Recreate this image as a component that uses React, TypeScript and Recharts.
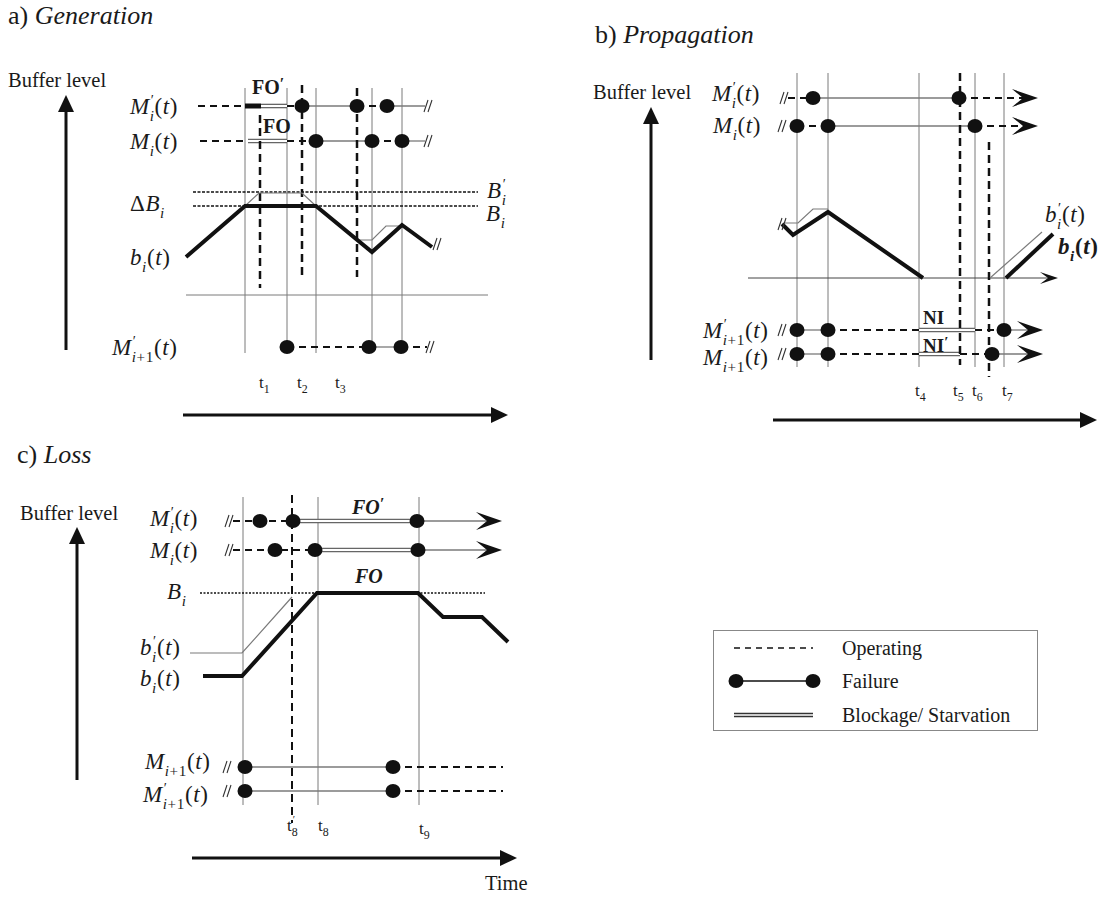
import React from 'react'
import { ComposedChart, Line, Scatter, XAxis, YAxis } from 'recharts'

const W = 1110
const H = 897
const INK = '#111'
const GREY = '#7a7a7a'
const SERIF = '"Liberation Serif", "Times New Roman", serif'

type Part = [string, number, number]
type Row = { y: number; parts: Part[]; dots: number[]; brk?: number; arrow?: number }

// ---- a) Generation ----
const genGrid = [245, 287, 316, 372, 402]
const genGridSpan = [88, 353]
const genDashed = [[260, 115, 288], [302, 85, 280], [357, 88, 277]]
const genRows: Row[] = [
  { y: 106, parts: [['op', 198, 245], ['heavy', 245, 261], ['block', 261, 287], ['op', 287, 302], ['fail', 302, 357], ['op', 357, 387], ['fail', 387, 425]], dots: [302, 357, 387], brk: 429 },
  { y: 141, parts: [['op', 200, 248], ['block', 248, 287], ['op', 287, 316], ['fail', 316, 372], ['op', 372, 402], ['fail', 402, 425]], dots: [316, 372, 402], brk: 429 },
  { y: 347, parts: [['op', 287, 369], ['fail', 369, 401], ['op', 401, 427]], dots: [287, 369, 401], brk: 431 },
]
const genLevels = [192, 206]
const genLevelSpan = [193, 478]
const genBuffer = [[186, 257], [245, 206], [316, 206], [372, 252], [402, 225], [432, 247]]
const genBufferAlt = [
  [[245, 206], [259, 193], [302, 193], [316, 206]],
  [[357, 240], [372, 240], [386, 226], [402, 226]],
]
const genBase = [[186, 295], [488, 295]]
const genBreaks = [[438, 244]]

// ---- b) Propagation ----
const propGrid = [797, 828, 919, 975, 1004]
const propGridSpan = [73, 367]
const propDashed = [[960, 73, 365], [989, 142, 377]]
const propRows: Row[] = [
  { y: 98, parts: [['op', 788, 813], ['fail', 813, 959], ['op', 959, 1028]], dots: [813, 959], brk: 785, arrow: 1038 },
  { y: 126, parts: [['op', 797, 828], ['fail', 828, 975], ['op', 975, 1028]], dots: [797, 828, 975], brk: 783, arrow: 1038 },
  { y: 330, parts: [['fail', 797, 828], ['op', 828, 919], ['block', 919, 975], ['op', 975, 1004], ['fail', 1004, 1033]], dots: [797, 828, 1004], brk: 783, arrow: 1043 },
  { y: 354, parts: [['fail', 797, 828], ['op', 828, 919], ['block', 919, 960], ['op', 960, 992], ['fail', 992, 1033]], dots: [797, 828, 992], brk: 783, arrow: 1043 },
]
const propBuffer = [
  [[782, 224], [793, 235], [828, 212], [923, 278]],
  [[1006, 278], [1053, 234]],
]
const propBufferAlt = [
  [[785, 223], [798, 223], [813, 209], [828, 209]],
  [[990, 278], [1042, 232]],
]
const propBase = [[748, 278], [1050, 278]]
const propBaseTip = [[1058, 278]]
const propBreaks = [[783, 224]]

// ---- c) Loss ----
const lossGrid = [243, 318, 419]
const lossGridSpan = [497, 805]
const lossDashed = [[292, 495, 823]]
const lossRows: Row[] = [
  { y: 521, parts: [['op', 233, 293], ['block', 293, 417], ['fail', 417, 494]], dots: [260, 293, 417], brk: 230, arrow: 502 },
  { y: 550, parts: [['op', 233, 315], ['block', 315, 418], ['fail', 418, 494]], dots: [275, 315, 418], brk: 230, arrow: 502 },
  { y: 767, parts: [['fail', 245, 393], ['op', 393, 503]], dots: [245, 393], brk: 228 },
  { y: 791, parts: [['fail', 245, 393], ['op', 393, 503]], dots: [245, 393], brk: 228 },
]
const lossLevel = 593
const lossLevelSpan = [200, 485]
const lossBuffer = [[203, 676], [242, 676], [317, 593], [418, 593], [443, 617], [482, 617], [508, 642]]
const lossBufferAlt = [[190, 653], [242, 653], [292, 597]]

// big axis arrows (from -> tip)
const axes = [
  { from: [66, 350], tip: [66, 95] },
  { from: [183, 415], tip: [508, 415] },
  { from: [651, 360], tip: [651, 107] },
  { from: [773, 420], tip: [1097, 420] },
  { from: [77, 780], tip: [77, 527] },
  { from: [192, 858], tip: [517, 858] },
]

// ---- text ----
type Sym = { x: number; y: number; pre?: string; base: string; prime?: boolean; sub: string; arg?: boolean; bold?: boolean }

const titles = [
  { x: 8, y: 16, tag: 'a) ', word: 'Generation' },
  { x: 595, y: 35, tag: 'b) ', word: 'Propagation' },
  { x: 17, y: 455, tag: 'c) ', word: 'Loss' },
]
const plainLabels = [
  { x: 8, y: 80, text: 'Buffer level' },
  { x: 593, y: 92, text: 'Buffer level' },
  { x: 20, y: 513, text: 'Buffer level' },
  { x: 485, y: 883, text: 'Time' },
]
const symLabels: Sym[] = [
  { x: 130, y: 106, base: 'M', prime: true, sub: 'i', arg: true },
  { x: 130, y: 141, base: 'M', sub: 'i', arg: true },
  { x: 130, y: 203, pre: 'Δ', base: 'B', sub: 'i' },
  { x: 130, y: 257, base: 'b', sub: 'i', arg: true },
  { x: 112, y: 347, base: 'M', prime: true, sub: 'i+1', arg: true },
  { x: 487, y: 190, base: 'B', prime: true, sub: 'i' },
  { x: 486, y: 213, base: 'B', sub: 'i' },
  { x: 712, y: 93, base: 'M', prime: true, sub: 'i', arg: true },
  { x: 713, y: 125, base: 'M', sub: 'i', arg: true },
  { x: 703, y: 330, base: 'M', prime: true, sub: 'i+1', arg: true },
  { x: 703, y: 357, base: 'M', sub: 'i+1', arg: true },
  { x: 1045, y: 214, base: 'b', prime: true, sub: 'i', arg: true },
  { x: 1058, y: 246, base: 'b', sub: 'i', arg: true, bold: true },
  { x: 150, y: 518, base: 'M', prime: true, sub: 'i', arg: true },
  { x: 150, y: 550, base: 'M', sub: 'i', arg: true },
  { x: 167, y: 591, base: 'B', sub: 'i' },
  { x: 140, y: 647, base: 'b', prime: true, sub: 'i', arg: true },
  { x: 140, y: 678, base: 'b', sub: 'i', arg: true },
  { x: 145, y: 761, base: 'M', sub: 'i+1', arg: true },
  { x: 143, y: 794, base: 'M', prime: true, sub: 'i+1', arg: true },
]
const timeTicks = [
  { x: 259, y: 382, n: '1' }, { x: 297, y: 382, n: '2' }, { x: 335, y: 382, n: '3' },
  { x: 915, y: 390, n: '4' }, { x: 953, y: 390, n: '5' }, { x: 972, y: 390, n: '6' }, { x: 1002, y: 390, n: '7' },
  { x: 287, y: 825, n: '8', prime: true }, { x: 318, y: 825, n: '8' }, { x: 419, y: 828, n: '9' },
]
const stateMarks = [
  { x: 252, y: 87, text: 'FO', prime: true, italic: false, size: 20 },
  { x: 263, y: 126, text: 'FO', prime: false, italic: false, size: 20 },
  { x: 923, y: 317, text: 'NI', prime: false, italic: false, size: 19 },
  { x: 923, y: 345, text: 'NI', prime: true, italic: false, size: 19 },
  { x: 352, y: 507, text: 'FO', prime: true, italic: true, size: 20 },
  { x: 355, y: 576, text: 'FO', prime: false, italic: true, size: 20 },
]
const legendItems = ['Operating', 'Failure', 'Blockage/ Starvation']

// ---- helpers ----
const pts = (list: number[][]) => list.map(([x, y]) => ({ x, y }))
const common = { dataKey: 'y', dot: false, activeDot: false, isAnimationActive: false, legendType: 'none' as const }

function stroke(key: string, list: number[][], color: string, width: number, dash?: string) {
  return <Line key={key} {...common} data={pts(list)} stroke={color} strokeWidth={width} strokeDasharray={dash} />
}

function rowLines(rows: Row[], id: string) {
  const out: any[] = []
  rows.forEach((r, i) => r.parts.forEach(([kind, a, b], j) => {
    const k = `${id}${i}-${j}`
    const l = [[a, r.y], [b, r.y]]
    if (kind === 'op') out.push(stroke(k, l, INK, 2, '7 5'))
    else if (kind === 'fail') out.push(stroke(k, l, GREY, 1.3))
    else if (kind === 'heavy') out.push(stroke(k, l, INK, 5))
    else {
      out.push(stroke(k + 'o', l, '#666', 4.6))
      out.push(stroke(k + 'i', l, '#fff', 2))
    }
  }))
  return out
}

const allRows = [...genRows, ...propRows, ...lossRows]
const dotData = allRows.flatMap(r => r.dots.map(x => ({ x, y: r.y })))
const breakData = [
  ...allRows.filter(r => r.brk).map(r => ({ x: r.brk as number, y: r.y })),
  ...pts(genBreaks), ...pts(propBreaks),
]
const chevronData = allRows.filter(r => r.arrow).map(r => ({ x: r.arrow as number, y: r.y }))
const upHeads = pts(axes.filter(a => a.from[0] === a.tip[0]).map(a => a.tip))
const rightHeads = pts(axes.filter(a => a.from[1] === a.tip[1]).map(a => a.tip))

const FailDot = (p: any) => <ellipse cx={p.cx} cy={p.cy} rx={7.5} ry={7} fill={INK} />
const BreakMark = (p: any) => (
  <g stroke="#333" strokeWidth={1.1}>
    <line x1={p.cx - 5} y1={p.cy + 6} x2={p.cx - 1} y2={p.cy - 6} />
    <line x1={p.cx - 1} y1={p.cy + 6} x2={p.cx + 3} y2={p.cy - 6} />
  </g>
)
const Chevron = (p: any) => (
  <path d={`M${p.cx},${p.cy} L${p.cx - 26},${p.cy - 9} L${p.cx - 15},${p.cy} L${p.cx - 26},${p.cy + 9} Z`} fill={INK} />
)
const SmallChevron = (p: any) => (
  <path d={`M${p.cx},${p.cy} L${p.cx - 18},${p.cy - 6} L${p.cx - 10},${p.cy} L${p.cx - 18},${p.cy + 6} Z`} fill={INK} />
)
const HeadUp = (p: any) => (
  <path d={`M${p.cx},${p.cy} L${p.cx - 8},${p.cy + 17} L${p.cx + 8},${p.cy + 17} Z`} fill={INK} />
)
const HeadRight = (p: any) => (
  <path d={`M${p.cx},${p.cy} L${p.cx - 17},${p.cy - 8} L${p.cx - 17},${p.cy + 8} Z`} fill={INK} />
)

// prime sits above the subscript, boxes stacked so they do not collide
function SubPart({ sub, prime, size, italic }: { sub: string; prime?: boolean; size: string; italic: boolean }) {
  const first = sub.slice(0, 1)
  return (
    <span style={{ position: 'relative' }}>
      {prime && (
        <span style={{ position: 'absolute', left: 1, top: -1, fontSize: '0.62em', lineHeight: 1, fontStyle: 'normal' }}>′</span>
      )}
      <span style={{ fontSize: size, position: 'relative', top: '0.45em' }}>
        {italic ? <i>{first}</i> : first}{sub.slice(1)}
      </span>
    </span>
  )
}

const at = (x: number, y: number, size: number): React.CSSProperties => ({
  position: 'absolute', left: x, top: y, transform: 'translateY(-50%)',
  fontSize: size, lineHeight: 1, whiteSpace: 'nowrap', color: '#1a1a1a', fontFamily: SERIF,
})

export default function App() {
  const verticals = (xs: number[], span: number[], id: string) =>
    xs.map((x, i) => stroke(`${id}${i}`, [[x, span[0]], [x, span[1]]], GREY, 1))
  const dashedV = (list: number[][], id: string, w: number) =>
    list.map(([x, a, b], i) => stroke(`${id}${i}`, [[x, a], [x, b]], INK, w, '8 5'))

  return (
    <div style={{ position: 'absolute', left: 0, top: 0, width: W, height: H, background: '#fff', overflow: 'hidden' }}>
      <ComposedChart width={W} height={H} margin={{ top: 0, right: 0, bottom: 0, left: 0 }}>
        <XAxis type="number" dataKey="x" domain={[0, W]} hide allowDataOverflow />
        <YAxis type="number" dataKey="y" domain={[0, H]} reversed hide allowDataOverflow />

        {verticals(genGrid, genGridSpan, 'gg')}
        {verticals(propGrid, propGridSpan, 'pg')}
        {verticals(lossGrid, lossGridSpan, 'lg')}
        {stroke('gbase', genBase, GREY, 1)}
        {stroke('pbase', propBase, '#444', 1)}

        {genLevels.map((y, i) => stroke(`glev${i}`, [[genLevelSpan[0], y], [genLevelSpan[1], y]], INK, 1.6, '3 1.5'))}
        {stroke('llev', [[lossLevelSpan[0], lossLevel], [lossLevelSpan[1], lossLevel]], INK, 1.4, '2 1.5')}

        {rowLines(genRows, 'gr')}
        {rowLines(propRows, 'pr')}
        {rowLines(lossRows, 'lr')}

        {dashedV(genDashed, 'gd', 2.5)}
        {dashedV(propDashed, 'pd', 2.5)}
        {dashedV(lossDashed, 'ld', 2)}

        {genBufferAlt.map((s, i) => stroke(`gba${i}`, s, GREY, 1.2))}
        {propBufferAlt.map((s, i) => stroke(`pba${i}`, s, GREY, 1.2))}
        {stroke('lba', lossBufferAlt, GREY, 1.2)}
        {stroke('gb', genBuffer, INK, 4)}
        {propBuffer.map((s, i) => stroke(`pb${i}`, s, INK, 4))}
        {stroke('lb', lossBuffer, INK, 4)}

        {axes.map((a, i) => {
          const dx = Math.sign(a.tip[0] - a.from[0])
          const dy = Math.sign(a.tip[1] - a.from[1])
          return stroke(`ax${i}`, [a.from, [a.tip[0] - dx * 12, a.tip[1] - dy * 12]], INK, 3)
        })}

        <Scatter data={dotData} shape={FailDot} isAnimationActive={false} legendType="none" />
        <Scatter data={breakData} shape={BreakMark} isAnimationActive={false} legendType="none" />
        <Scatter data={chevronData} shape={Chevron} isAnimationActive={false} legendType="none" />
        <Scatter data={pts(propBaseTip)} shape={SmallChevron} isAnimationActive={false} legendType="none" />
        <Scatter data={upHeads} shape={HeadUp} isAnimationActive={false} legendType="none" />
        <Scatter data={rightHeads} shape={HeadRight} isAnimationActive={false} legendType="none" />
      </ComposedChart>

      {titles.map((t, i) => (
        <div key={`t${i}`} style={at(t.x, t.y, 26)}>{t.tag}<i>{t.word}</i></div>
      ))}
      {plainLabels.map((t, i) => (
        <div key={`p${i}`} style={at(t.x, t.y, 20.5)}>{t.text}</div>
      ))}
      {symLabels.map((s, i) => (
        <div key={`s${i}`} style={{ ...at(s.x, s.y, 23), letterSpacing: 0.6, fontWeight: s.bold ? 700 : 400 }}>
          {s.pre}<i>{s.base}</i>
          <SubPart sub={s.sub} prime={s.prime} size="0.66em" italic />
          {s.arg && <>{'('}<i>t</i>{')'}</>}
        </div>
      ))}
      {timeTicks.map((t, i) => (
        <div key={`k${i}`} style={at(t.x, t.y, 17)}>
          t<SubPart sub={t.n} prime={t.prime} size="0.7em" italic={false} />
        </div>
      ))}
      {stateMarks.map((m, i) => (
        <div key={`m${i}`} style={{ ...at(m.x, m.y, m.size), fontWeight: 700, fontStyle: m.italic ? 'italic' : 'normal' }}>
          {m.text}{m.prime && <span style={{ fontSize: '0.8em', position: 'relative', top: '-0.3em' }}>′</span>}
        </div>
      ))}

      <div style={{ position: 'absolute', left: 713, top: 630, width: 325, height: 101, border: '1px solid #888', boxSizing: 'border-box' }}>
        <svg width={120} height={99} style={{ position: 'absolute', left: 0, top: 0 }}>
          <line x1={20} y1={17} x2={99} y2={17} stroke={INK} strokeWidth={1.6} strokeDasharray="6 5" />
          <line x1={22} y1={50} x2={99} y2={50} stroke={INK} strokeWidth={1.5} />
          <ellipse cx={22} cy={50} rx={7.5} ry={7} fill={INK} />
          <ellipse cx={99} cy={50} rx={7.5} ry={7} fill={INK} />
          <line x1={20} y1={84} x2={99} y2={84} stroke="#333" strokeWidth={4.6} />
          <line x1={20} y1={84} x2={99} y2={84} stroke="#fff" strokeWidth={1.6} />
        </svg>
        {legendItems.map((t, i) => (
          <div key={`l${i}`} style={at(128, [17, 50, 84][i], 20)}>{t}</div>
        ))}
      </div>
    </div>
  )
}
